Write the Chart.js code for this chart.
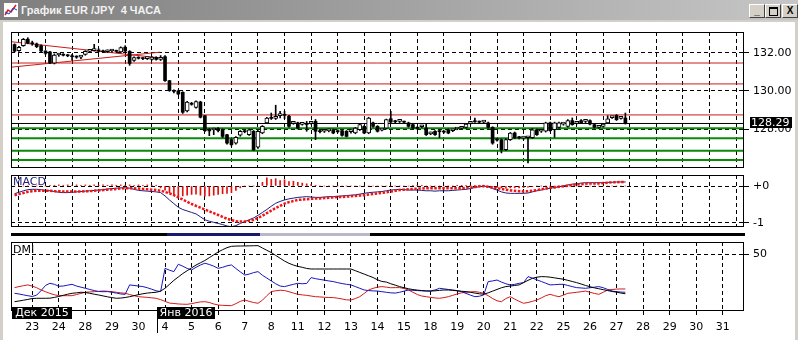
<!DOCTYPE html>
<html>
<head>
<meta charset="utf-8">
<script src="https://cdn.jsdelivr.net/npm/chart.js@4.4.0/dist/chart.umd.min.js"></script>
<style>
  body { margin: 0; width: 798px; height: 340px; background: #d4d0c8; position: relative; overflow: hidden; font-family: "DejaVu Sans", sans-serif; }
  #titlebar { position: absolute; left: 0; top: 0; width: 798px; height: 20px; background: linear-gradient(to right, #7e7e7e, #c6c6c6); }
  #title { position: absolute; left: 21px; top: 4px; font: bold 11px "Liberation Sans", Arial, sans-serif; color: #f2f2f2; white-space: pre; }
  #icon { position: absolute; left: 3px; top: 2px; width: 16px; height: 16px; }
  .btn { position: absolute; top: 4px; width: 14px; height: 12px; background: #d4d0c8; border: 1px solid; border-color: #fff #404040 #404040 #fff; color: #000; font: bold 10px "Liberation Sans", Arial, sans-serif; text-align: center; line-height: 12px; }
  #client { position: absolute; left: 3px; top: 22px; width: 792px; height: 318px; background: #fff; }
  canvas { position: absolute; left: 0; }
  .lbl { position: absolute; font-size: 11px; line-height: 12px; }
  .month { position: absolute; top: 307px; height: 12px; background: #000; color: #fff; font-size: 11px; line-height: 12px; text-align: center; }
</style>
</head>
<body>
<div id="titlebar">
  <svg id="icon" viewBox="0 0 16 16"><rect x="0.5" y="0.5" width="15" height="15" fill="#fff" stroke="#808080"/><polyline points="2,13 5,8 8,10 13,3" fill="none" stroke="#d02020" stroke-width="1.5"/><polyline points="2,10 6,12 10,6 14,8" fill="none" stroke="#2040c0" stroke-width="1"/></svg>
  <div id="title">График EUR /JPY  4 ЧАСА</div>
  <div class="btn" style="left:749px">_</div>
  <div class="btn" style="left:765px"><span style="display:inline-block;width:7px;height:6px;border:1px solid #000;border-top-width:2px;margin-top:2px"></span></div>
  <div class="btn" style="left:782px">X</div>
</div>
<div id="client"></div>

<canvas id="priceCTX" width="798" height="150" style="top:24px"></canvas>
<canvas id="macdCTX" width="798" height="60" style="top:170px"></canvas>
<div style="position:absolute;left:11px;top:233px;width:734px;height:3px;background:linear-gradient(to right,#000 0 156px,#1a1a6a 156px 249px,#b8b8c8 249px 359px,#000 359px)"></div>
<canvas id="dmiCTX" width="798" height="104" style="top:236px"></canvas>

<div class="lbl" style="left:13px;top:176px;color:#20207a">MACD</div>
<div class="lbl" style="left:13px;top:244px;color:#000">DMI</div>
<div class="month" style="left:12px;width:60px">Дек 2015</div>
<div class="month" style="left:157px;width:58px">Янв 2016</div>
<div style="position:absolute;left:157px;top:307px;width:1px;height:26px;background:#000"></div>

<script>
const firstBar = -4;
const barsPerDay = 6;
const dayLabels = ["23", "24", "28", "29", "30", "4", "5", "6", "7", "8", "11", "12", "13", "14",
  "15", "18", "19", "20", "21", "22", "25", "26", "27", "28", "29", "30", "31"];

const priceTicks = [128, 130, 132];
const macdTicks = [0, -1];
const macdTickLabels = ["+0", "-1"];
const dmiTicks = [50];

const redLevels = [131.47, 130.37, 128.74];
const greenLevels = [128.04, 127.51, 126.86, 126.37];
const trendA = [[-4.8, 132.59], [29.5, 131.72]];
const trendB = [[-4.8, 131.25], [28.9, 132.04]];

const open = [
  132.44, 132.12, 132.38, 132.72, 132.52, 132.47, 132.38, 132.10, 132.05, 131.46,
  131.89, 131.92, 131.88, 131.85, 131.80, 131.78, 131.92, 132.08, 132.12, 132.15,
  132.10, 132.06, 132.10, 132.12, 132.05, 132.30, 132.08, 131.60, 131.76, 131.72,
  131.70, 131.66, 131.76, 131.66, 131.80, 130.54, 130.02, 130.00, 129.93, 128.95,
  129.35, 129.14, 129.42, 128.70, 127.91, 127.95, 128.02, 127.96, 127.70, 127.44,
  127.26, 127.67, 127.88, 127.70, 127.88, 127.04, 127.79, 128.32, 128.58, 128.56,
  128.70, 128.75, 128.67, 128.30, 128.32, 128.24, 128.26, 128.30, 128.40, 127.88,
  127.88, 127.90, 127.96, 127.88, 127.91, 127.88, 127.86, 127.79, 127.96, 128.14,
  127.79, 128.32, 128.14, 127.94, 128.05, 128.54, 128.40, 128.40, 128.38, 128.32,
  128.23, 128.05, 128.12, 128.05, 127.74, 127.88, 127.88, 127.86, 127.96, 127.91,
  128.00, 128.04, 128.09, 128.30, 128.40, 128.37, 128.36, 128.32, 128.09, 127.44,
  127.44, 126.91, 127.44, 127.79, 127.56, 127.52, 127.54, 127.54, 127.96, 127.88,
  127.88, 128.32, 127.96, 128.09, 128.26, 128.14, 128.44, 128.30, 128.44, 128.40,
  128.44, 128.23, 128.09, 128.14, 128.32, 128.60, 128.72, 128.56, 128.58,
];
const high = [
  132.48, 132.35, 132.76, 132.80, 132.62, 132.52, 132.42, 132.12, 132.08, 131.95,
  131.98, 131.96, 131.92, 131.92, 131.85, 131.88, 132.12, 132.16, 132.45, 132.22,
  132.15, 132.16, 132.18, 132.15, 132.32, 132.38, 132.12, 131.80, 131.80, 131.76,
  131.76, 131.82, 131.80, 131.86, 131.86, 130.56, 130.06, 130.04, 129.96, 129.46,
  129.40, 129.48, 129.46, 128.72, 128.02, 128.05, 128.08, 128.00, 127.72, 127.48,
  127.60, 127.92, 127.95, 128.00, 127.92, 127.92, 128.18, 128.62, 128.84, 129.25,
  128.93, 128.93, 128.72, 128.40, 128.36, 128.30, 128.40, 128.40, 128.50, 127.96,
  127.96, 128.00, 128.00, 127.96, 127.95, 127.92, 127.94, 128.08, 128.26, 128.18,
  128.62, 128.36, 128.18, 128.02, 128.52, 128.93, 128.46, 128.48, 128.42, 128.36,
  128.26, 128.12, 128.20, 128.26, 127.84, 127.92, 127.96, 127.90, 128.00, 127.98,
  128.06, 128.10, 128.30, 128.38, 128.58, 128.42, 128.44, 128.36, 128.12, 127.50,
  127.48, 127.48, 127.82, 127.84, 127.62, 127.60, 127.62, 128.02, 128.00, 127.95,
  128.36, 128.36, 128.36, 128.36, 128.32, 128.50, 128.58, 128.36, 128.50, 128.48,
  128.48, 128.26, 128.14, 128.30, 128.70, 128.66, 128.76, 128.62, 128.84,
];
const low = [
  132.05, 132.08, 132.35, 132.48, 132.40, 132.28, 132.05, 131.92, 131.44, 131.42,
  131.82, 131.84, 131.80, 131.62, 131.72, 131.70, 131.88, 132.04, 132.10, 132.05,
  132.02, 132.02, 132.05, 132.04, 132.00, 132.06, 131.35, 131.55, 131.68, 131.64,
  131.65, 131.62, 131.62, 131.60, 130.50, 129.98, 129.90, 129.80, 128.82, 128.90,
  129.25, 129.10, 128.58, 127.86, 127.65, 127.70, 127.85, 127.55, 127.20, 127.10,
  127.20, 127.62, 127.80, 127.66, 126.86, 126.98, 127.75, 128.28, 128.50, 128.50,
  128.58, 128.55, 128.10, 128.25, 128.00, 128.20, 127.88, 128.26, 127.44, 127.80,
  127.82, 127.85, 127.75, 127.80, 127.62, 127.58, 127.78, 127.75, 127.92, 127.75,
  127.75, 128.10, 127.84, 127.90, 128.00, 128.32, 128.30, 128.34, 128.30, 128.10,
  128.00, 127.98, 128.08, 127.66, 127.70, 127.66, 127.54, 127.78, 127.75, 127.86,
  127.96, 128.00, 128.05, 128.26, 128.34, 128.30, 128.30, 128.05, 127.20, 127.36,
  126.74, 126.86, 127.40, 127.50, 127.48, 127.46, 126.22, 127.50, 127.66, 127.82,
  127.84, 127.88, 127.56, 128.05, 128.20, 128.10, 128.20, 128.26, 128.28, 128.34,
  128.22, 128.05, 128.04, 128.10, 128.28, 128.56, 128.45, 128.52, 128.26,
];
const close = [
  132.09, 132.30, 132.72, 132.52, 132.48, 132.33, 132.10, 131.98, 131.47, 131.89,
  131.92, 131.88, 131.85, 131.80, 131.78, 131.83, 132.08, 132.12, 132.15, 132.10,
  132.06, 132.12, 132.12, 132.08, 132.28, 132.10, 131.45, 131.76, 131.72, 131.70,
  131.72, 131.78, 131.66, 131.72, 130.54, 130.02, 129.98, 129.84, 128.88, 129.42,
  129.30, 129.44, 128.62, 127.91, 127.90, 127.96, 127.92, 127.61, 127.26, 127.18,
  127.56, 127.88, 127.86, 127.96, 126.91, 127.88, 128.14, 128.58, 128.56, 128.62,
  128.75, 128.72, 128.14, 128.32, 128.05, 128.26, 128.24, 128.34, 127.88, 127.86,
  127.90, 127.92, 127.79, 127.86, 127.67, 127.61, 127.88, 128.05, 128.23, 127.79,
  128.58, 128.14, 127.88, 127.96, 128.49, 128.37, 128.38, 128.42, 128.36, 128.14,
  128.05, 128.04, 128.14, 127.70, 127.78, 127.70, 127.86, 127.84, 127.79, 127.92,
  128.02, 128.05, 128.26, 128.32, 128.38, 128.36, 128.38, 128.09, 127.26, 127.42,
  126.91, 127.44, 127.79, 127.54, 127.54, 127.54, 127.56, 127.96, 127.70, 127.90,
  128.32, 127.91, 128.32, 128.32, 128.28, 128.44, 128.23, 128.32, 128.32, 128.42,
  128.26, 128.09, 128.10, 128.26, 128.54, 128.62, 128.49, 128.58, 128.29,
];

const macd = [
  -0.21, -0.17, -0.13, -0.10, -0.09, -0.09, -0.10, -0.12, -0.13, -0.15,
  -0.17, -0.18, -0.18, -0.17, -0.16, -0.15, -0.14, -0.13, -0.12, -0.11,
  -0.10, -0.08, -0.07, -0.06, -0.05, -0.05, -0.06, -0.09, -0.12, -0.13,
  -0.14, -0.15, -0.16, -0.18, -0.27, -0.38, -0.48, -0.58, -0.64, -0.68,
  -0.72, -0.76, -0.84, -0.92, -0.96, -0.99, -1.02, -1.05, -1.09, -1.11,
  -1.08, -1.02, -0.97, -0.92, -0.87, -0.80, -0.72, -0.64, -0.55, -0.47,
  -0.42, -0.38, -0.35, -0.33, -0.31, -0.30, -0.29, -0.30, -0.31, -0.31,
  -0.30, -0.29, -0.29, -0.28, -0.27, -0.26, -0.25, -0.24, -0.22, -0.20,
  -0.18, -0.17, -0.16, -0.15, -0.13, -0.11, -0.10, -0.09, -0.10, -0.11,
  -0.11, -0.11, -0.12, -0.13, -0.13, -0.14, -0.13, -0.13, -0.13, -0.12,
  -0.11, -0.10, -0.09, -0.07, -0.04, -0.02, 0.00, -0.02, -0.07, -0.11,
  -0.16, -0.19, -0.20, -0.20, -0.20, -0.20, -0.19, -0.16, -0.13, -0.11,
  -0.08, -0.06, -0.04, -0.02, 0.00, 0.03, 0.05, 0.06, 0.08, 0.09,
  0.09, 0.09, 0.09, 0.09, 0.10, 0.10, 0.11, 0.11, 0.11,
];
const signal = [
  -0.25, -0.22, -0.19, -0.16, -0.14, -0.13, -0.13, -0.13, -0.13, -0.14,
  -0.14, -0.15, -0.15, -0.15, -0.15, -0.15, -0.14, -0.14, -0.13, -0.12,
  -0.11, -0.10, -0.09, -0.08, -0.07, -0.06, -0.06, -0.06, -0.07, -0.08,
  -0.09, -0.10, -0.11, -0.13, -0.16, -0.20, -0.25, -0.31, -0.37, -0.43,
  -0.49, -0.54, -0.59, -0.64, -0.69, -0.74, -0.79, -0.84, -0.89, -0.93,
  -0.96, -0.97, -0.97, -0.95, -0.92, -0.87, -0.81, -0.74, -0.67, -0.60,
  -0.54, -0.48, -0.44, -0.41, -0.38, -0.37, -0.36, -0.35, -0.34, -0.34,
  -0.33, -0.32, -0.31, -0.30, -0.30, -0.29, -0.28, -0.27, -0.26, -0.25,
  -0.23, -0.22, -0.20, -0.19, -0.17, -0.15, -0.13, -0.11, -0.10, -0.09,
  -0.08, -0.07, -0.07, -0.06, -0.06, -0.06, -0.06, -0.06, -0.06, -0.06,
  -0.06, -0.06, -0.05, -0.04, -0.03, -0.01, 0.00, -0.02, -0.04, -0.06,
  -0.08, -0.10, -0.12, -0.13, -0.14, -0.15, -0.14, -0.13, -0.11, -0.09,
  -0.07, -0.05, -0.04, -0.02, -0.01, 0.01, 0.03, 0.04, 0.05, 0.06,
  0.07, 0.07, 0.07, 0.08, 0.09, 0.10, 0.10, 0.11, 0.11,
];
const hist = [
  0, 0, 0, 0, 0, 0, 0, 0, 0.02, 0.02,
  0.03, 0.02, 0.03, 0.02, 0.03, 0.02, 0.03, 0.02, 0.03, 0.02,
  0.03, 0.02, 0.03, 0.02, 0.03, 0.02, 0.03, 0.02, 0.03, 0.02,
  0.03, 0.02, 0.02, -0.05, -0.11, -0.18, -0.23, -0.27, -0.27, -0.25,
  -0.23, -0.22, -0.25, -0.28, -0.27, -0.25, -0.23, -0.21, -0.20, -0.18,
  -0.12, -0.05, 0, 0, 0, 0, 0.10, 0.22, 0.18, 0.20,
  0.15, 0.17, 0.12, 0.13, 0.10, 0.08, 0.06, 0.04, 0.02, 0,
  0, 0, 0, 0, 0, 0, 0, 0, 0, 0,
  0, 0, 0, 0, 0, 0, 0, 0, 0, 0,
  0.02, 0.02, 0.02, 0, 0, 0, 0, 0, 0, 0,
  0.02, 0.02, 0.02, 0.02, 0.02, 0.02, 0, -0.02, -0.03, -0.04,
  -0.05, -0.06, -0.05, -0.05, -0.05, -0.04, -0.03, -0.02, 0, 0,
  0, 0, 0, 0, 0, 0, 0, 0, 0, 0,
  0, 0, 0, 0, 0, 0, 0, 0, 0,
];

const adx = [
  8.2, 8.8, 9.5, 10.2, 11.0, 11.2, 11.2, 11.2, 11.3, 12.0,
  12.8, 13.8, 14.8, 15.6, 16.0, 16.5, 16.3, 15.6, 14.8, 14.1,
  13.3, 12.5, 11.8, 11.2, 11.4, 11.9, 12.6, 13.5, 14.4, 15.2,
  15.8, 16.2, 16.5, 17.5, 20.0, 23.5, 27.0, 30.0, 33.0, 35.5,
  38.0, 40.5, 42.5, 44.5, 47.0, 49.5, 52.0, 54.0, 55.8, 57.0,
  57.2, 57.3, 57.3, 57.4, 57.5, 57.6, 55.5, 53.5, 51.5, 49.0,
  46.5, 44.0, 42.0, 40.5, 39.3, 38.5, 37.5, 37.0, 37.0, 37.0,
  37.0, 37.0, 37.0, 37.0, 37.0, 37.0, 37.0, 35.5, 34.0, 32.5,
  31.0, 29.5, 27.5, 26.0, 25.5, 24.0, 22.8, 21.5, 20.5, 19.6,
  18.9, 18.4, 18.0, 17.7, 17.6, 17.8, 18.2, 18.5, 18.5, 18.2,
  17.8, 17.4, 17.1, 16.5, 15.8, 15.2, 14.8, 16.0, 17.5, 19.0,
  20.5, 21.5, 22.0, 22.5, 23.0, 25.0, 27.0, 28.8, 29.8, 30.3,
  30.2, 29.8, 29.2, 28.6, 28.0, 27.0, 26.0, 25.0, 23.8, 22.5,
  21.4, 20.4, 19.6, 18.8, 18.0, 17.2, 16.6, 15.8, 15.2,
];
const plusDI = [
  15.6, 15.0, 14.2, 13.5, 12.8, 14.0, 18.0, 22.5, 24.4, 23.5,
  21.8, 22.0, 22.8, 23.5, 22.0, 21.0, 20.0, 19.0, 18.0, 17.2,
  17.0, 17.1, 16.5, 15.8, 15.0, 14.7, 23.0, 22.5, 22.0, 21.5,
  20.5, 19.2, 17.8, 17.1, 37.6, 36.0, 34.7, 41.2, 39.5, 37.5,
  36.2, 38.5, 40.5, 42.1, 41.0, 39.5, 37.6, 38.5, 39.8, 40.6,
  37.5, 34.5, 31.7, 32.5, 33.8, 34.7, 31.5, 29.0, 26.5, 24.0,
  22.0, 21.5, 22.5, 23.5, 24.4, 24.0, 24.3, 29.4, 28.5, 27.8,
  27.2, 26.5, 25.9, 25.0, 24.2, 23.5, 23.0, 21.5, 20.0, 18.5,
  18.0, 17.7, 17.6, 17.0, 16.5, 16.0, 15.8, 16.5, 17.5, 18.5,
  18.2, 18.0, 17.8, 17.6, 17.6, 18.5, 20.0, 19.5, 19.0, 18.5,
  18.0, 17.0, 15.5, 14.0, 12.6, 13.0, 14.1, 25.9, 26.5, 27.3,
  25.5, 24.0, 23.0, 23.5, 24.4, 25.0, 30.3, 29.0, 27.5, 26.0,
  24.5, 23.0, 23.2, 23.5, 23.5, 22.5, 21.5, 20.6, 20.3, 20.0,
  20.5, 21.0, 21.5, 20.5, 19.0, 17.6, 17.0, 16.7, 16.5,
];
const minusDI = [
  20.6, 21.5, 22.3, 23.0, 22.0, 20.5, 18.5, 17.0, 15.5, 14.3,
  13.5, 13.5, 13.5, 13.5, 14.5, 15.5, 16.5, 16.8, 17.0, 17.3,
  17.6, 17.4, 17.0, 16.5, 16.0, 15.6, 14.5, 13.5, 12.6, 12.3,
  12.0, 11.6, 11.2, 10.0, 8.5, 7.0, 6.6, 6.2, 6.0, 5.9,
  6.5, 7.3, 8.0, 8.2, 7.5, 6.2, 5.3, 5.0, 4.8, 4.7,
  6.5, 8.5, 9.7, 8.5, 7.5, 6.8, 9.5, 13.5, 17.1, 17.8,
  18.3, 18.0, 17.0, 15.8, 14.7, 14.2, 13.8, 13.2, 12.6, 12.4,
  12.1, 11.9, 11.8, 11.3, 10.6, 9.8, 9.7, 11.0, 12.6, 15.5,
  18.5, 20.0, 21.0, 21.5, 21.0, 20.5, 20.6, 20.6, 19.8, 18.5,
  16.5, 14.5, 13.2, 12.6, 12.0, 11.5, 11.2, 11.8, 12.6, 13.8,
  15.0, 16.0, 16.5, 16.8, 17.1, 16.5, 15.6, 13.5, 11.0, 9.0,
  8.2, 11.0, 12.6, 10.5, 8.5, 6.8, 7.5, 8.5, 9.7, 11.5,
  13.5, 14.7, 13.5, 12.6, 14.0, 15.6, 16.0, 16.5, 17.0, 17.6,
  16.5, 15.5, 14.7, 16.5, 18.5, 19.0, 19.3, 19.4, 19.4,
];

const xMin = -4.8;
const xMax = 160.8;
const RED = "#cc1a1a";
const GREEN = "#0a8a0a";

Chart.defaults.font.family = "'DejaVu Sans', sans-serif";
Chart.defaults.font.size = 11;
Chart.defaults.color = "#000";
Chart.defaults.animation = false;
Chart.defaults.events = [];
Chart.defaults.plugins.legend.display = false;
Chart.defaults.plugins.tooltip.enabled = false;

const bars = open.map((_, k) => firstBar + k);
const points = (values) => bars.map((x, k) => ({ x, y: values[k] }));
const lastClose = close[close.length - 1];

const wicks = bars.map((x, k) => ({ x, y: [low[k], high[k]] }));
const upBodies = [];
const downBodies = [];
bars.forEach((x, k) => {
  const body = { x, y: [open[k], close[k]] };
  (close[k] >= open[k] ? upBodies : downBodies).push(body);
});

// box round every plot area
const frame = {
  id: "frame",
  afterDraw(chart) {
    const { ctx, chartArea: a } = chart;
    ctx.save();
    ctx.strokeStyle = "#000";
    ctx.lineWidth = 1;
    ctx.strokeRect(Math.round(a.left) + 0.5, Math.round(a.top) + 0.5, Math.round(a.width) - 1, Math.round(a.height) - 1);
    ctx.restore();
  },
};

// black tag with the last price on the right axis
const priceTag = {
  id: "priceTag",
  afterDraw(chart) {
    const { ctx } = chart;
    const y = Math.round(chart.scales.y.getPixelForValue(lastClose));
    ctx.save();
    ctx.fillStyle = "#000";
    ctx.fillRect(750, y - 6, 42, 11);
    ctx.fillStyle = "#fff";
    ctx.font = "11px 'DejaVu Sans'";
    ctx.textBaseline = "middle";
    ctx.fillText(lastClose.toFixed(2), 751, y);
    ctx.restore();
  },
};

function xScale(showLabels) {
  return {
    type: "linear",
    min: xMin,
    max: xMax,
    offset: false,
    border: { display: false, dash: [4, 3] },
    grid: { color: "#000", drawTicks: showLabels, tickLength: 4, tickColor: "#000" },
    ticks: {
      display: showLabels,
      autoSkip: false,
      maxRotation: 0,
      padding: 6,
      callback: (v, i) => dayLabels[i],
    },
    afterBuildTicks: (s) => {
      s.ticks = dayLabels.map((_, k) => ({ value: k * barsPerDay }));
    },
    afterFit: (s) => {
      s.height = showLabels ? 29 : 0;
      s.paddingLeft = 0;
      s.paddingRight = 0;
    },
  };
}

function yScale(min, max, tickValues, format) {
  return {
    position: "right",
    min,
    max,
    border: { display: false, dash: [4, 3] },
    grid: { color: "#000", tickLength: 5, tickColor: "#000" },
    ticks: { padding: 4, callback: format },
    afterBuildTicks: (s) => {
      s.ticks = tickValues.map((v) => ({ value: v }));
    },
    afterFit: (s) => {
      s.width = 54;
      s.paddingTop = 0;
      s.paddingBottom = 0;
    },
  };
}

const levelLine = (price, color, width) => ({
  type: "line",
  data: [{ x: xMin, y: price }, { x: xMax, y: price }],
  borderColor: color,
  borderWidth: width,
  pointRadius: 0,
  order: 5,
});

const trendLine = (pts) => ({
  type: "line",
  data: pts.map(([x, y]) => ({ x, y })),
  borderColor: RED,
  borderWidth: 1,
  pointRadius: 0,
  order: 5,
});

const priceCTX = new Chart(document.getElementById("priceCTX"), {
  type: "bar",
  data: {
    datasets: [
      ...redLevels.map((p) => levelLine(p, RED, 1)),
      ...greenLevels.map((p) => levelLine(p, GREEN, 2)),
      levelLine(lastClose, "#000", 1),
      trendLine(trendA),
      trendLine(trendB),
      { data: wicks, backgroundColor: "#000", barThickness: 1, grouped: false, order: 3 },
      { data: downBodies, backgroundColor: "#000", barThickness: 3, minBarLength: 1, grouped: false, order: 2 },
      {
        data: upBodies,
        backgroundColor: "#fff",
        borderColor: "#000",
        borderWidth: 1,
        borderSkipped: false,
        barThickness: 4,
        minBarLength: 2,
        grouped: false,
        order: 1,
      },
    ],
  },
  options: {
    responsive: false,
    layout: { padding: { left: 11, right: 0, top: 8, bottom: 6 } },
    scales: {
      x: xScale(false),
      y: yScale(125.95, 133.1, priceTicks, (v) => v.toFixed(2)),
    },
  },
  plugins: [frame, priceTag],
});

const macdCTX = new Chart(document.getElementById("macdCTX"), {
  type: "bar",
  data: {
    datasets: [
      { data: points(hist), backgroundColor: "#e01010", barThickness: 1, grouped: false, order: 3 },
      { type: "line", data: points(macd), borderColor: "#1c1c7c", borderWidth: 1, pointRadius: 0, order: 2 },
      {
        type: "line",
        data: points(signal),
        borderColor: "#f01414",
        borderWidth: 2.5,
        borderDash: [2.5, 1.5],
        pointRadius: 0,
        order: 1,
      },
    ],
  },
  options: {
    responsive: false,
    layout: { padding: { left: 11, right: 0, top: 5, bottom: 3 } },
    scales: {
      x: xScale(false),
      y: yScale(-1.117, 0.3, macdTicks, (v, i) => macdTickLabels[i]),
    },
  },
  plugins: [frame],
});

const dmiCTX = new Chart(document.getElementById("dmiCTX"), {
  type: "line",
  data: {
    datasets: [
      { data: points(adx), borderColor: "#000", borderWidth: 1, pointRadius: 0 },
      { data: points(plusDI), borderColor: "#1515c0", borderWidth: 1, pointRadius: 0 },
      { data: points(minusDI), borderColor: "#d41a1a", borderWidth: 1, pointRadius: 0 },
    ],
  },
  options: {
    responsive: false,
    layout: { padding: { left: 11, right: 0, top: 6, bottom: 0 } },
    scales: {
      x: xScale(true),
      y: yScale(0, 60.8, dmiTicks, (v) => String(v)),
    },
  },
  plugins: [frame],
});
</script>
</body>
</html>
